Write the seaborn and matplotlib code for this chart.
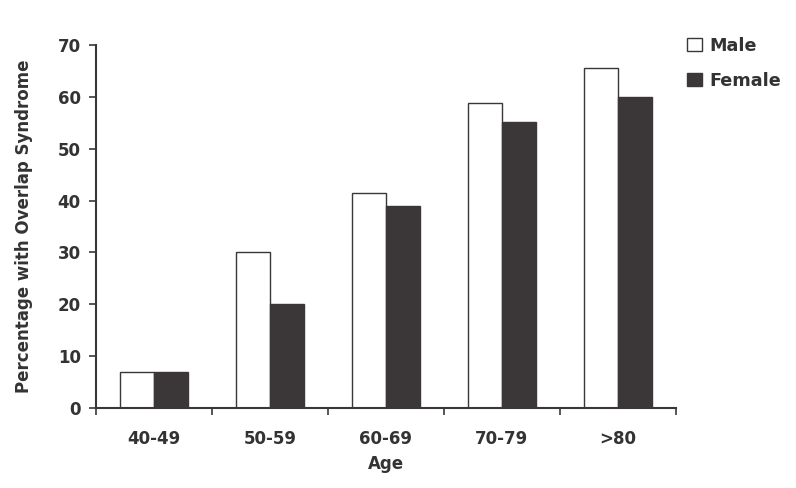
import matplotlib
matplotlib.use("Agg")
import matplotlib.pyplot as plt
import seaborn as sns
import pandas as pd
from matplotlib.patches import Patch

ages = ["40-49", "50-59", "60-69", "70-79", ">80"]
male = [7, 30, 41.4, 58.8, 65.5]
female = [7, 20, 39, 55.1, 60]

df = pd.DataFrame({
    "Age": ages * 2,
    "Pct": male + female,
    "Sex": ["Male"] * len(ages) + ["Female"] * len(ages),
})

sns.set_style("white")
plt.rcParams['font.family'] = ['DejaVu Sans']
dark = "#3b3738"
txt = "#333333"

fig = plt.figure(figsize=(7.96, 4.88), dpi=100)
ax = fig.add_axes([96/796, 1-408/488, 580/796, 363/488])
sns.barplot(data=df, x="Age", y="Pct", hue="Sex", order=ages,
            hue_order=["Male", "Female"], palette={"Male": "white", "Female": dark},
            width=0.58, gap=0, edgecolor=dark, linewidth=1.0, ax=ax, legend=False,
            saturation=1)

ax.set_xlim(-0.5, 4.5)
ax.set_ylim(0, 70)
ax.set_yticks(range(0, 71, 10))
ax.set_xticks(range(5))
ax.set_xticks([i - 0.5 for i in range(6)], minor=True)
ax.tick_params(axis="x", which="major", length=0, pad=16, labelsize=12, labelcolor=txt)
ax.tick_params(axis="x", which="minor", length=5, width=1.2, direction="out", color=dark, bottom=True)
ax.tick_params(axis="y", length=5, width=1.2, direction="out", color=dark, left=True, labelsize=12, labelcolor=txt, pad=6)
for lab in ax.get_xticklabels() + ax.get_yticklabels():
    lab.set_fontweight("bold")

for s in ["top", "right"]:
    ax.spines[s].set_visible(False)
for s in ["left", "bottom"]:
    ax.spines[s].set_color(dark)
    ax.spines[s].set_linewidth(1.5)

ax.set_xlabel("Age", fontsize=12, fontweight="bold", color=txt, labelpad=5)
ax.set_ylabel("Percentage with Overlap Syndrome", fontsize=12, fontweight="bold", color=txt, labelpad=18)

handles = [Patch(facecolor="white", edgecolor=dark, label="Male"),
           Patch(facecolor=dark, edgecolor=dark, label="Female")]
leg = fig.legend(handles=handles, loc="upper left", bbox_to_anchor=(671/796, 1-21/488),
                 frameon=False, handlelength=0.85, handleheight=0.75, handletextpad=0.4,
                 labelspacing=0.95, prop={"weight": "bold", "size": 12.7})
for t in leg.get_texts():
    t.set_color(txt)

fig.savefig("out.png", dpi=100)
